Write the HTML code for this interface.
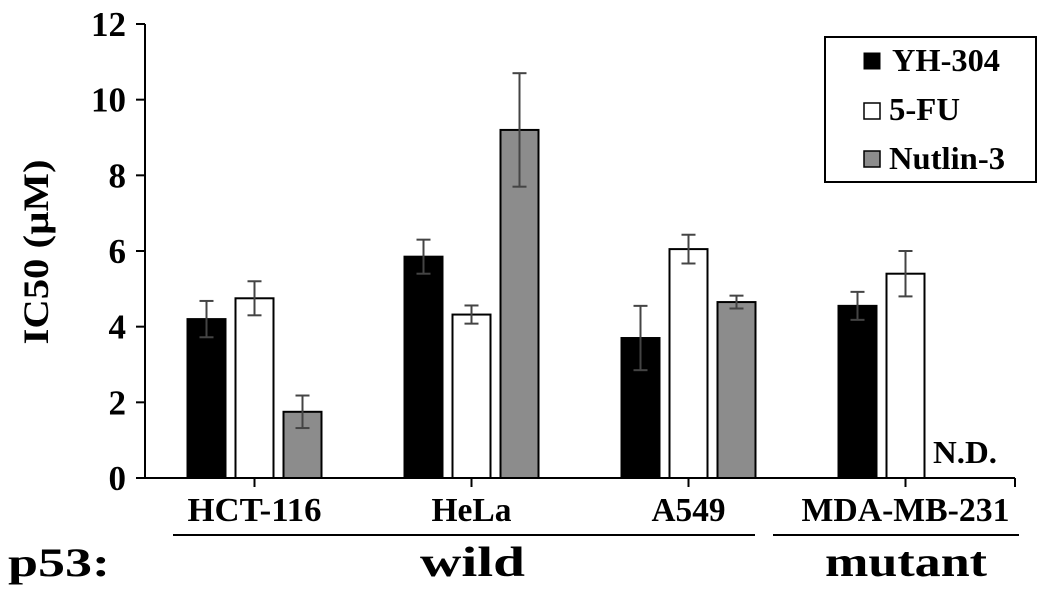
<!DOCTYPE html>
<html><head><meta charset="utf-8"><style>
body{margin:0;background:#fff}
svg text{font-family:"Liberation Serif",serif;font-weight:bold;fill:#000}
</style></head><body>
<svg id="chart" width="1063" height="588" xmlns="http://www.w3.org/2000/svg">
<g id="axes"></g>
<g id="bars"></g>
<text transform="translate(48,252) rotate(-90)" text-anchor="middle" font-size="36" textLength="185" lengthAdjust="spacingAndGlyphs">IC50 (µM)</text>
<text x="933" y="463" font-size="32" textLength="64" lengthAdjust="spacingAndGlyphs">N.D.</text>
<line x1="173" y1="535" x2="755" y2="535" stroke="#000" stroke-width="2"/>
<line x1="773" y1="535" x2="1019" y2="535" stroke="#000" stroke-width="2"/>
<text x="8" y="576" font-size="40" textLength="102" lengthAdjust="spacingAndGlyphs">p53:</text>
<text x="420" y="576" font-size="42" textLength="105" lengthAdjust="spacingAndGlyphs">wild</text>
<text x="825" y="576" font-size="42" textLength="162" lengthAdjust="spacingAndGlyphs">mutant</text>
<g>
<rect x="825" y="37" width="211" height="145" fill="#fff" stroke="#000" stroke-width="2"/>
<rect x="864" y="53" width="16" height="16" fill="#000" stroke="#000"/>
<text x="892" y="71" font-size="32" textLength="108" lengthAdjust="spacingAndGlyphs">YH-304</text>
<rect x="864" y="103" width="16" height="16" fill="#fff" stroke="#000" stroke-width="1.5"/>
<text x="889" y="120" font-size="32" textLength="71" lengthAdjust="spacingAndGlyphs">5-FU</text>
<rect x="864" y="151" width="16" height="16" fill="#8c8c8c" stroke="#000" stroke-width="1.5"/>
<text x="889" y="169" font-size="32" textLength="116" lengthAdjust="spacingAndGlyphs">Nutlin-3</text>
</g>
</svg>
<script>
const categories = ["HCT-116","HeLa","A549","MDA-MB-231"];
const seriesNames = ["YH-304","5-FU","Nutlin-3"];
const yh304 = [4.2, 5.85, 3.7, 4.55];
const yh304Err = [0.48, 0.45, 0.85, 0.37];
const fu5 = [4.75, 4.32, 6.05, 5.4];
const fu5Err = [0.45, 0.24, 0.38, 0.6];
const nutlin = [1.75, 9.2, 4.65, null];
const nutlinErr = [0.43, 1.5, 0.17, null];
const yTicks = [0,2,4,6,8,10,12];
const catLabelWidths = [134, 80, 74, 208];

const NS="http://www.w3.org/2000/svg";
const y0=478, yTop=24, yMax=12;
function yScale(v){return y0-(v/yMax)*(y0-yTop);}
const xStart=146, groupW=217;
function xCenter(i){return xStart+groupW*(i+0.5);}
function mk(tag,attrs,parent){const e=document.createElementNS(NS,tag);for(const k in attrs)e.setAttribute(k,attrs[k]);parent.appendChild(e);return e;}
const axes=document.getElementById('axes');
const bars=document.getElementById('bars');

let ax=mk('line',{x1:145,y1:yScale(12),x2:145,y2:y0,stroke:'#000','stroke-width':2},axes);


let xa=mk('line',{x1:145,y1:y0,x2:1015,y2:y0,stroke:'#000','stroke-width':2},axes);


yTicks.forEach(t=>{
  const y=yScale(t);
  const l=mk('line',{x1:136,y1:y,x2:145,y2:y,stroke:'#000','stroke-width':2},axes);
  
  
  const tx=mk('text',{x:126,y:y+12,'text-anchor':'end','font-size':35},axes);
  tx.textContent=t;
  
  
});
categories.forEach((c,i)=>{
  const x=xCenter(i);
  const l=mk('line',{x1:x,y1:y0,x2:x,y2:y0+9,stroke:'#000','stroke-width':2},axes);
  
  
  const tx=mk('text',{x:x,y:521,'text-anchor':'middle','font-size':34,textLength:catLabelWidths[i],lengthAdjust:'spacingAndGlyphs'},axes);
  tx.textContent=c;
  
  
});
const endT=mk('line',{x1:1015,y1:y0,x2:1015,y2:y0+9,stroke:'#000','stroke-width':2},axes);



const series=[[yh304,yh304Err,'#000'],[fu5,fu5Err,'#fff'],[nutlin,nutlinErr,'#8c8c8c']];
const barW=38, offs=[-48,0,48];
series.forEach((s,si)=>{
  s[0].forEach((v,i)=>{
    if(v==null)return;
    const cx=xCenter(i)+offs[si];
    const r=mk('rect',{x:cx-barW/2,y:yScale(v),width:barW,height:y0-yScale(v),fill:s[2],stroke:'#000','stroke-width':2},bars);
    
    
    const e=s[1][i], yt=yScale(v+e), yb=yScale(v-e);
    const g=mk('g',{stroke:'#444','stroke-width':2},bars);
    
    
    mk('line',{x1:cx,y1:yt,x2:cx,y2:yb},g);
    mk('line',{x1:cx-7,y1:yt,x2:cx+7,y2:yt},g);
    mk('line',{x1:cx-7,y1:yb,x2:cx+7,y2:yb},g);
  });
});
</script>
</body></html>
